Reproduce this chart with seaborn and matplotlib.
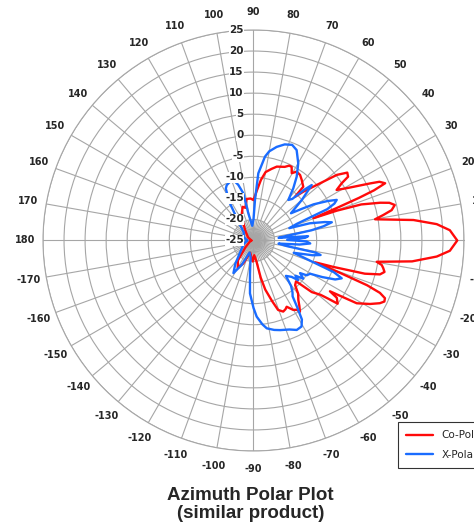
import numpy as np
import pandas as pd
import seaborn as sns
import matplotlib.pyplot as plt

# Co-Polar pattern (azimuth angle in degrees, gain in dB)
co_angle = [-180, -160, -140, -128, -120, -114, -105, -97, -92, -87, -82, -79, -76.5, -73,
            -70.5, -67.3, -65, -63.4, -60.2, -58, -56.9, -55, -53, -50, -47, -43.8, -41.5,
            -39, -37.9, -36.9, -34.5, -33.6, -31.3, -28.6, -26.4, -25, -23.7, -22.5, -21.5,
            -20.5, -19.5, -18.3, -16.6, -15, -13.5, -12, -10.8, -9.8, -7.5, -5, -3, 0, 3,
            5.1, 7.3, 9.9, 11.1, 12.4, 14.1, 15.5, 16.6, 18.5, 19.7, 20.4, 21.3, 22, 22.6,
            23.5, 25, 26.1, 29.3, 31.3, 33, 34, 35.9, 38.2, 40.7, 44.4, 46.5, 47.2, 51.5,
            54.6, 57.9, 60.4, 62.6, 64.5, 67, 72.5, 76, 80, 83, 86, 90, 94, 99.4, 104,
            107.8, 114.8, 120, 130, 150, 180]
co_db = [-24.5, -24, -22.5, -19, -17.5, -19, -22, -21, -20, -21.5, -20, -16, -13, -10,
         -7.5, -6.7, -7, -7.4, -6, -5.6, -4.8, -6, -7.3, -8.5, -10.5, -11, -6.5,
         -4.5, -2.5, 0, -1, -3.2, 3.7, 6.5, 8.5, 9.3, 9.1, 7.5, 4,
         -3, -9.5, -5, 2.6, 6.1, 7, 6.5, 6, 4.7, 13, 18.7, 21.7, 23.4, 21.7,
         18.7, 13.3, 4.3, 6.4, 8.6, 9.6, 8.5, 6.4, 2, -4, -9.8, -4, 2, 6,
         9.1, 8, 5.8, 0.4, -1.9, 0, 2.1, 2.5, 0.2, -4.2, -8.4, -10.7, -7.6, -6.6,
         -5.9, -5.7, -6.6, -5.3, -5.3, -6, -6.6, -7.5, -8.5, -10.5, -13, -15.4, -15, -15, -17,
         -16.6, -18.3, -20, -22, -23.5, -24.5]

# X-Polar pattern
x_angle = [-180, -160, -140, -128, -121.6, -116, -108, -100, -96, -93.8, -90, -87.6, -84,
           -81.4, -77, -73.5, -68, -64.2, -60.8, -58.5, -56.8, -55, -53, -50.4, -47.5,
           -43.7, -41.6, -40, -37.5, -35, -33.2, -30.4, -28, -25.5, -23.2, -21.5, -19.5,
           -17, -14, -12.2, -11, -9.5, -7, -5, -3, -1, 1, 3, 4.5, 6, 8, 10, 11.5, 13.1,
           14.5, 17, 19, 21, 23, 24.5, 26, 28, 31, 33, 36, 40, 43.6, 45, 47, 49.3, 52.7,
           55.9, 59.9, 64.5, 68, 72, 76.1, 80, 82.2, 85.9, 87.9, 90, 95, 100.8, 102.2,
           105.3, 108.5, 112, 115.8, 118, 122, 128, 140, 160, 180]
x_db = [-23.5, -22.5, -21, -18, -15.9, -18.5, -22, -21, -17, -12.4, -9, -6.9, -5,
        -3.9, -3.2, -2.8, -2.2, -1.4, -1.6, -3, -6, -8.8, -9.6, -11, -13.6,
        -12.5, -10.8, -12, -10.1, -11.5, -9.9, -9.4, -6.5, -3.5, -2.2, -4.5, -11,
        -15, -10.5, -8.7, -10, -17, -19, -14, -11.5, -12.4, -17, -12.7, -12, -19, -17, -11, -8, -5.9,
        -7.5, -11, -16, -14, -6, -3.9, -3, -5, -8.3, -11, -14, -10, -5.9, -8, -11.5, -12.3, -9.4,
        -6.7, -3.8, -1.2, -0.5, -1, -2.1, -3.5, -4.9, -9, -15.4, -20, -21.5, -18.4, -13.5,
        -11.3, -9.8, -10, -10.4, -11, -14, -19, -22, -22.5, -23.5]

r_ticks = list(range(-25, 26, 5))
theta_ticks = list(range(0, 360, 10))
theta_labels = [str(a if a <= 180 else a - 360) for a in theta_ticks]

df = pd.concat([
    pd.DataFrame({"theta": np.deg2rad(co_angle), "dB": co_db, "series": "Co-Polar"}),
    pd.DataFrame({"theta": np.deg2rad(x_angle), "dB": x_db, "series": "X-Polar"}),
], ignore_index=True)

sns.set_style("white")
plt.rcParams["font.family"] = ["DejaVu Sans"]

fig = plt.figure(figsize=(4.74, 5.27), dpi=100)
ax = fig.add_axes([0.0907, 0.1442, 0.8882, 0.7989], projection="polar")

grid_col = "#a6a6a6"
ax.set_ylim(-25, 25)
ax.set_yticks(r_ticks[1:])
ax.set_yticklabels([])
ax.set_xticks(np.deg2rad(theta_ticks))
ax.set_xticklabels(theta_labels, fontsize=7, fontweight="bold", color="#262626")
ax.tick_params(axis="x", pad=2.5)
ax.grid(True, color=grid_col, lw=0.8)
ax.spines["polar"].set_color(grid_col)
ax.spines["polar"].set_linewidth(0.8)

# dense short spokes near the centre
minor = np.deg2rad(np.arange(5, 360, 10))
ax.vlines(minor, -25, -20, color=grid_col, lw=0.8, zorder=1)

sns.lineplot(data=df, x="theta", y="dB", hue="series", sort=False, estimator=None,
             palette={"Co-Polar": "#ff0a0a", "X-Polar": "#1a6cff"}, lw=1.7, ax=ax)
ax.set_xlabel("")
ax.set_ylabel("")

# radial labels along the 90 degree spoke
for v in r_ticks:
    ax.annotate(str(v), xy=(np.pi / 2, v), xytext=(-7, 0), textcoords="offset points",
                ha="right", va="center", fontsize=7.5, fontweight="bold", color="#262626",
                bbox=dict(facecolor="white", edgecolor="none", pad=0.3), zorder=10,
                annotation_clip=False)

sns.move_legend(ax, loc="upper left", bbox_to_anchor=(398 / 474, 1 - 422 / 527),
                bbox_transform=fig.transFigure, title=None, frameon=True, fancybox=False,
                fontsize=7.5, handlelength=2.6, labelspacing=0.9, borderpad=0.8,
                borderaxespad=0)
leg = ax.get_legend()
leg.get_frame().set_edgecolor("black")
leg.get_frame().set_linewidth(0.8)

title_font = ["Liberation Sans", "DejaVu Sans"]
fig.text(0.529, 1 - 496 / 527, "Azimuth Polar Plot", ha="center", va="center",
         fontsize=13.5, fontweight="bold", family=title_font)
fig.text(0.529, 1 - 513 / 527, "(similar product)", ha="center", va="center",
         fontsize=13.5, fontweight="bold", family=title_font)

fig.savefig("out.png", dpi=100)
